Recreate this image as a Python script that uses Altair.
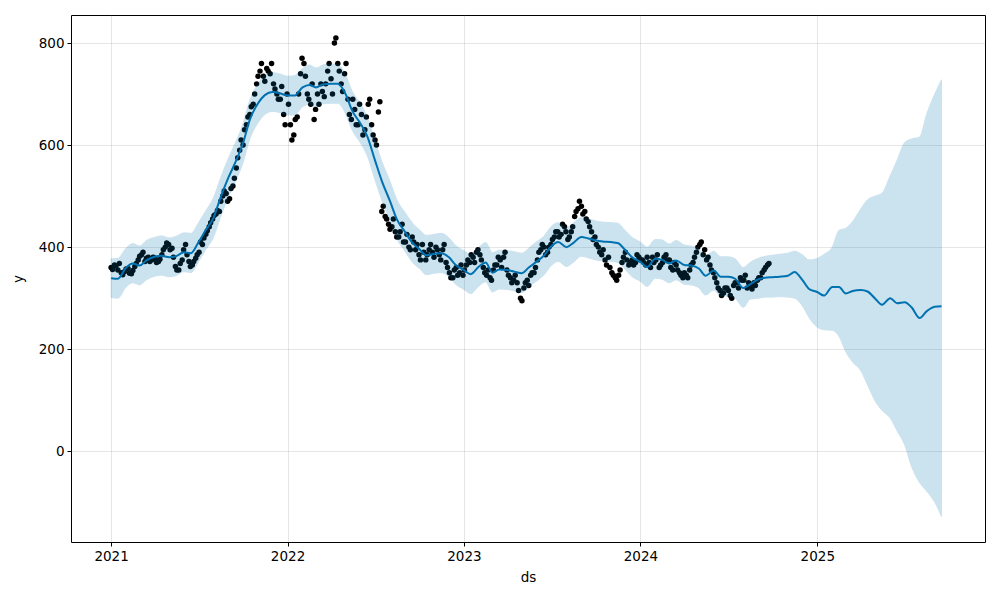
import altair as alt
import pandas as pd

obs_y = [
    360, 365, 355, 350, 352, 358, 348, 362, 375, 385,
    372, 380, 375, 378, 372, 385, 400, 405, 398, 362,
    355, 375, 405, 372, 365, 378, 390, 405, 425, 440,
    455, 465, 470, 500, 505, 495, 520, 555, 590, 600,
    640, 660, 680, 720, 745, 735, 750, 740, 720, 700,
    690, 660, 700, 640, 620, 655, 740, 760, 700, 680,
    650, 700, 720, 695, 745, 730, 800, 760, 720, 740,
    690, 650, 670, 640, 660, 630, 680, 640, 610, 665,
    470, 460, 445, 440, 430, 420, 445, 410, 400, 420,
    395, 385, 405, 375, 395, 390, 400, 385, 395, 370,
    350, 340, 360, 350, 345, 365, 370, 380, 390, 385,
    360, 345, 340, 355, 365, 375, 380, 355, 340, 335,
    330, 300, 320, 335, 345, 350, 375, 395, 400, 390,
    405, 420, 430, 425, 440, 415, 430, 460, 475, 480,
    470, 450, 430, 420, 400, 385, 375, 380, 350, 340,
    345, 370, 390, 365, 375, 370, 380, 375, 365, 370,
    380, 375, 360, 370, 385, 375, 355, 365, 350, 340,
    345, 355, 370, 390, 405, 385, 375, 365, 350, 330,
    315, 310, 320, 305, 325, 330, 340, 335, 320, 325,
    330, 335, 340, 355, 365,
]
# Second weekly reading (mid-week, starting 2021-01-04)
obs_y_mid = [
    356, 363, 368, 346, 357, 349, 354, 368, 382, 390,
    378, 372, 380, 370, 376, 395, 408, 395, 380, 355,
    368, 395, 385, 362, 372, 385, 410, 418, 432, 448,
    462, 472, 490, 510, 490, 515, 535, 575, 610, 630,
    655, 675, 700, 735, 760, 725, 745, 760, 710, 690,
    715, 640, 680, 610, 650, 700, 770, 735, 690, 720,
    670, 680, 705, 720, 760, 700, 810, 745, 705, 760,
    660, 690, 640, 680, 620, 655, 690, 620, 600, 685,
    480, 455, 435, 455, 420, 430, 410, 425, 395, 410,
    405, 375, 390, 385, 405, 380, 395, 375, 405, 360,
    340, 355, 345, 365, 355, 375, 385, 370, 395, 375,
    350, 355, 335, 365, 380, 360, 390, 345, 330, 345,
    315, 295, 330, 325, 350, 360, 390, 405, 385, 400,
    415, 430, 420, 445, 430, 420, 440, 470, 490, 465,
    455, 440, 415, 405, 390, 395, 365, 360, 345, 335,
    355, 380, 375, 370, 365, 385, 375, 370, 380, 360,
    370, 385, 365, 380, 375, 360, 370, 355, 345, 350,
    340, 365, 380, 400, 410, 395, 380, 355, 340, 320,
    305, 320, 315, 300, 330, 320, 335, 345, 330, 318,
    325, 340, 350, 360, 368,
]

# Forecast (semi-monthly, from 2021-01-01 to 2025-09-15)
yhat = [
    339, 338, 360, 368, 364, 374, 381, 383, 380, 382,
    390, 388, 410, 432, 458, 496, 537, 566, 604, 650,
    682, 698, 704, 702, 697, 697, 713, 718, 713, 719,
    720, 720, 700, 667, 642, 617, 570, 530, 490, 455,
    430, 410, 396, 384, 387, 388, 380, 365, 355, 347,
    362, 370, 350, 356, 355, 352, 349, 360, 372, 383,
    402, 410, 400, 408, 420, 417, 413, 411, 410, 408,
    394, 380, 371, 361, 377, 375, 368, 374, 365, 364,
    358, 344, 354, 342, 342, 338, 320, 327, 337, 340,
    341, 342, 344, 351, 336, 318, 312, 305, 322, 322,
    309, 314, 316, 313, 299, 287, 300, 290, 292, 282,
    261, 274, 283, 284,
]
yhat_upper = [
    377, 378, 398, 407, 402, 413, 419, 422, 418, 421,
    428, 427, 448, 470, 497, 534, 575, 604, 642, 688,
    720, 737, 742, 740, 735, 736, 750, 757, 751, 757,
    759, 758, 738, 705, 681, 655, 608, 568, 529, 493,
    468, 449, 434, 423, 425, 427, 418, 403, 393, 386,
    400, 409, 389, 394, 393, 391, 388, 398, 411, 421,
    441, 448, 438, 447, 458, 456, 451, 449, 448, 447,
    432, 419, 410, 400, 415, 414, 406, 413, 404, 402,
    397, 383, 392, 381, 381, 377, 360, 370, 378, 382,
    384, 386, 388, 392, 385, 375, 378, 386, 400, 433,
    437, 450, 475, 493, 500, 506, 540, 570, 605, 612,
    616, 660, 700, 728,
]
yhat_lower = [
    301, 300, 322, 330, 326, 336, 343, 345, 342, 344,
    352, 350, 372, 394, 420, 458, 499, 528, 566, 612,
    644, 660, 666, 664, 659, 659, 675, 680, 675, 681,
    682, 682, 662, 629, 604, 579, 532, 492, 452, 417,
    392, 372, 358, 346, 349, 350, 342, 327, 317, 309,
    324, 332, 312, 318, 317, 314, 311, 322, 334, 345,
    364, 372, 362, 370, 382, 379, 375, 373, 372, 370,
    356, 342, 333, 323, 339, 337, 330, 336, 327, 326,
    320, 306, 316, 304, 304, 300, 282, 298, 300, 302,
    302, 303, 302, 300, 285, 262, 243, 238, 237, 225,
    195, 175, 158, 130, 98, 80, 65, 40, 12, -30,
    -62, -78, -100, -128,
]
year_ticks = [2021, 2022, 2023, 2024, 2025]

obs = pd.concat([
    pd.DataFrame({
        "ds": pd.date_range("2021-01-01", periods=len(obs_y), freq="7D").strftime("%Y-%m-%d"),
        "y": obs_y,
    }),
    pd.DataFrame({
        "ds": pd.date_range("2021-01-04", periods=len(obs_y_mid), freq="7D").strftime("%Y-%m-%d"),
        "y": obs_y_mid,
    }),
], ignore_index=True)
fc = pd.DataFrame({
    "ds": pd.date_range("2021-01-01", periods=len(yhat), freq="SMS").strftime("%Y-%m-%d"),
    "yhat": yhat,
    "lo": yhat_lower,
    "hi": yhat_upper,
})

FONT = "DejaVu Sans"
xscale = alt.Scale(domain=[alt.DateTime(year=2020, month=10, date=10),
                           alt.DateTime(year=2025, month=12, date=14)])
yscale = alt.Scale(domain=[-178, 855], nice=False, zero=False)

xaxis = alt.Axis(
    title="ds",
    values=[alt.DateTime(year=y, month=1, date=1) for y in year_ticks],
    format="%Y", formatType="time", labelAngle=0,
)
yaxis = alt.Axis(title="y", values=[0, 200, 400, 600, 800], titlePadding=13)

x = alt.X("ds:T", scale=xscale, axis=xaxis)

points = alt.Chart(obs).mark_circle(size=30, color="black", opacity=1).encode(
    x=x,
    y=alt.Y("y:Q", scale=yscale, axis=yaxis),
)
line = alt.Chart(fc).mark_line(color="#0072B2", strokeWidth=2, interpolate="monotone").encode(
    x=x,
    y=alt.Y("yhat:Q", scale=yscale),
)
band = alt.Chart(fc).mark_area(
    color="#0072B2", opacity=0.2, stroke="#0072B2", strokeWidth=1, strokeOpacity=1,
    interpolate="monotone",
).encode(
    x=x,
    y=alt.Y("lo:Q", scale=yscale),
    y2="hi:Q",
)

chart = alt.layer(points, line, band).properties(
    width=914, height=527,
    padding={"left": 63, "top": 7, "right": 7, "bottom": 45},
    autosize=alt.AutoSizeParams(type="none"),
).configure_view(
    stroke="black", strokeWidth=1
).configure_axis(
    grid=True, gridColor="gray", gridOpacity=0.2, gridWidth=1,
    domain=False, ticks=True, tickColor="black", tickSize=4, tickWidth=1,
    labelFont=FONT, labelFontSize=13.5, labelColor="black", labelPadding=3,
    titleFont=FONT, titleFontSize=13.5, titleColor="black", titleFontWeight="normal",
    titlePadding=8,
)

chart.save("out.html", embed_options={"renderer": "svg", "actions": False})
